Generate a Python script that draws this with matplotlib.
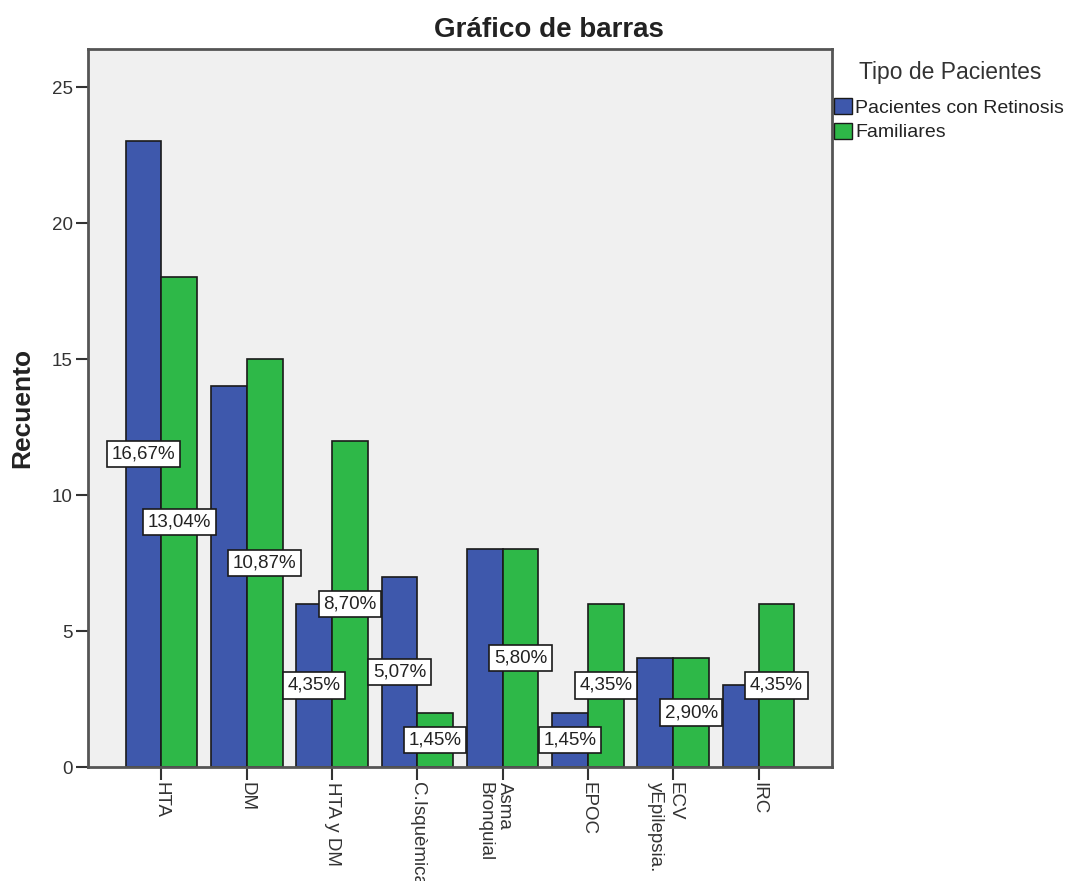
import numpy as np
import matplotlib.pyplot as plt
import matplotlib.transforms as mtransforms
from matplotlib.patches import Patch

plt.rcParams['font.family'] = ['Liberation Sans', 'DejaVu Sans']

# Data
categories = ['HTA', 'DM', 'HTA y DM', 'C.Isquèmica', 'Asma\nBronquial',
              'EPOC', 'ECV\nyEpilepsia.', 'IRC']
retinosis = [23, 14, 6, 7, 8, 2, 4, 3]
familiares = [18, 15, 12, 2, 8, 6, 4, 6]
# which percentage labels are visible (SPSS hides overlapping ones)
show_ret = [True, False, True, True, False, True, False, False]
show_fam = [True, True, True, True, True, True, True, True]
series_names = ['Pacientes con Retinosis', 'Familiares']
yticks = [0, 5, 10, 15, 20, 25]

BLUE = '#3E58AC'
GREEN = '#2EB848'
EDGE = '#1A1A1A'


def pct(v, total):
    return f'{100 * v / total:.2f}%'.replace('.', ',')


def main():
    total = sum(retinosis) + sum(familiares)
    x = np.arange(len(categories))
    w = 0.42

    fig = plt.figure(figsize=(10.68, 8.81), dpi=100)
    ax = fig.add_axes([88 / 1068, 1 - 767 / 881, 744 / 1068, 718 / 881])
    ax.set_facecolor('#F0F0F0')

    ax.bar(x - w / 2, retinosis, w, color=BLUE, edgecolor=EDGE, linewidth=1.2, zorder=2)
    ax.bar(x + w / 2, familiares, w, color=GREEN, edgecolor=EDGE, linewidth=1.2, zorder=2)

    box = dict(boxstyle='square,pad=0.25', facecolor='white', edgecolor=EDGE, linewidth=1.2)
    for i in range(len(categories)):
        if show_ret[i]:
            ax.text(x[i] - w / 2, retinosis[i] / 2, pct(retinosis[i], total),
                    ha='center', va='center', fontsize=13.5, color='#222222', bbox=box, zorder=4)
        if show_fam[i]:
            ax.text(x[i] + w / 2, familiares[i] / 2, pct(familiares[i], total),
                    ha='center', va='center', fontsize=13.5, color='#222222', bbox=box, zorder=4)

    ax.set_xlim(-0.86, len(categories) - 1 + 0.86)
    ax.set_ylim(0, 26.4)
    ax.set_yticks(yticks)
    ax.set_xticks(x)
    ax.set_xticklabels(categories, rotation=-90, ha='center', va='top',
                       multialignment='left', fontsize=13.5, color='#333333')
    ax.tick_params(axis='y', labelsize=13.5, labelcolor='#333333')
    ax.tick_params(direction='out', length=9, width=1.5, color='#333333', pad=2)

    # two-line labels: first line sits on the tick
    shift = mtransforms.ScaledTranslation(-8 / 100, 0, fig.dpi_scale_trans)
    for lbl in ax.get_xticklabels():
        if '\n' in lbl.get_text():
            lbl.set_transform(lbl.get_transform() + shift)

    for s in ax.spines.values():
        s.set_color('#555555')
        s.set_linewidth(2)

    ax.set_ylabel('Recuento', fontsize=19, fontweight='bold', color='#222222')
    ax.yaxis.label.set_va('center')
    ax.yaxis.set_label_coords(-0.088, 0.5)

    fig.text(549 / 1068, 1 - 30 / 881, 'Gráfico de barras', ha='center', va='center',
             fontsize=20, fontweight='bold', color='#222222')

    fig.text(950 / 1068, 1 - 73 / 881, 'Tipo de Pacientes', ha='center', va='center',
             fontsize=16.5, color='#333333')
    handles = [Patch(facecolor=BLUE, edgecolor=EDGE), Patch(facecolor=GREEN, edgecolor=EDGE)]
    leg = fig.legend(handles, series_names,
                     loc='upper left', bbox_to_anchor=(834 / 1068, 1 - 98 / 881),
                     frameon=False, fontsize=14,
                     handlelength=0.9, handleheight=0.9, handletextpad=0.2,
                     labelspacing=0.3, borderpad=0, borderaxespad=0)
    for t in leg.get_texts():
        t.set_color('#222222')

    plt.savefig('out.png', dpi=100)


if __name__ == '__main__':
    main()
